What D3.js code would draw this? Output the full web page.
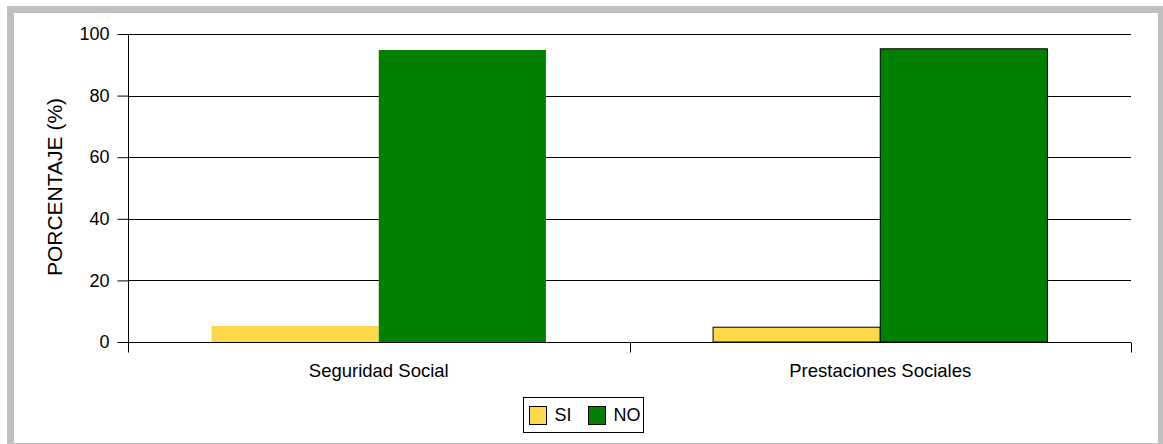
<!DOCTYPE html>
<html><head><meta charset="utf-8">
<script src="https://cdn.jsdelivr.net/npm/d3@7"></script>
<style>html,body{margin:0;padding:0;background:#fff;}svg{display:block;}</style>
</head><body>
<script>
const categories = ["Seguridad Social", "Prestaciones Sociales"];
const seriesNames = ["SI", "NO"];
const siValues = [5.2, 4.8];
const noValues = [94.8, 95.2];
const yTicks = [0, 20, 40, 60, 80, 100];
const colors = ["#FFD84A", "#008000"];

(function () {
const W = 1163, H = 444;
const svg = d3.select("body").append("svg").attr("width", W).attr("height", H);
const font = "Liberation Sans, Arial, sans-serif";

// frame
svg.append("rect").attr("x", 7).attr("y", 6).attr("width", W - 7).attr("height", H - 6).attr("fill", "#c0c0c0");
svg.append("rect").attr("x", 14).attr("y", 13).attr("width", 1158 - 14).attr("height", 443 - 13).attr("fill", "#fff");

const pl = 128, pr = 1131, pt = 34, pb = 342;
const x0 = d3.scaleBand().domain(categories).range([pl, pr]).padding(0);
const bw = x0.bandwidth();
const x1 = d3.scaleBand().domain(seriesNames).range([bw / 6, bw * 5 / 6]).padding(0);
const y = d3.scaleLinear().domain([0, 100]).range([pb, pt]);

// gridlines
svg.append("g").selectAll("line").data(yTicks).join("line")
  .attr("x1", pl).attr("x2", pr)
  .attr("y1", d => Math.round(y(d)) + 0.5).attr("y2", d => Math.round(y(d)) + 0.5)
  .attr("stroke", "#000").attr("stroke-width", 1);

// bars
const data = categories.map((c, i) => ({ cat: c, i, vals: [siValues[i], noValues[i]] }));
const g = svg.append("g");
data.forEach(d => {
  d.vals.forEach((v, j) => {
    g.append("rect")
      .attr("x", x0(d.cat) + x1(seriesNames[j]))
      .attr("y", y(v))
      .attr("width", x1.bandwidth())
      .attr("height", y(0) - y(v))
      .attr("fill", colors[j])
      .attr("stroke", d.i === 1 ? "#000" : "none")
      .attr("stroke-width", 1);
  });
});

// y axis
const yAxis = d3.axisLeft(y).tickValues(yTicks).tickSize(11).tickPadding(8);
const ya = svg.append("g").attr("transform", `translate(${pl + 0.5},0)`).call(yAxis);
ya.select(".domain").attr("stroke", "#000").attr("d", `M0,${pt}V${pb}`);
ya.selectAll(".tick line").attr("stroke", "#000");
ya.selectAll("text").attr("font-family", font).attr("font-size", 18).attr("fill", "#000");

// x axis
const xa = svg.append("g").attr("transform", `translate(0,${pb + 0.5})`);
xa.append("line").attr("x1", pl).attr("x2", pr).attr("stroke", "#000");
const xTickPos = [pl, ...categories.slice(1).map(c => x0(c)), pr];
xa.selectAll("line.t").data(xTickPos).join("line").attr("class", "t")
  .attr("x1", d => Math.round(d) + 0.5).attr("x2", d => Math.round(d) + 0.5)
  .attr("y1", 0).attr("y2", 10).attr("stroke", "#000");
xa.selectAll("text").data(categories).join("text")
  .attr("x", d => x0(d) + bw / 2).attr("y", 34.5)
  .attr("text-anchor", "middle").attr("font-family", font).attr("font-size", 18.5).attr("fill", "#000")
  .text(d => d);

// y title
svg.append("text").attr("transform", "translate(62,187) rotate(-90)")
  .attr("text-anchor", "middle").attr("font-family", font).attr("font-size", 21).attr("fill", "#000")
  .text("PORCENTAJE (%)");

// legend
const lg = svg.append("g");
lg.append("rect").attr("x", 523.5).attr("y", 397.5).attr("width", 120).attr("height", 35)
  .attr("fill", "#fff").attr("stroke", "#000");
const legX = [529.5, 588.5];
seriesNames.forEach((s, j) => {
  lg.append("rect").attr("x", legX[j]).attr("y", 406.5).attr("width", 17).attr("height", 18)
    .attr("fill", colors[j]).attr("stroke", "#000");
  lg.append("text").attr("x", legX[j] + 25).attr("y", 421).attr("font-family", font).attr("font-size", 18)
    .attr("fill", "#000").text(s);
});
})();
</script>
</body></html>
